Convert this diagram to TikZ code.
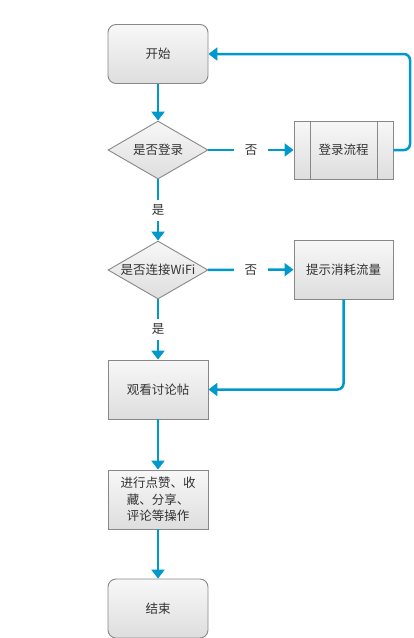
\documentclass[tikz,border=0pt]{standalone}
\usepackage{fontspec}
\newfontfamily\cjk{Noto Sans CJK SC}
\usetikzlibrary{shapes.geometric,arrows.meta,calc}
\definecolor{ln}{RGB}{0,153,204}
\definecolor{bd}{RGB}{136,136,136}
\definecolor{tx}{RGB}{51,51,51}
\begin{document}
\begin{tikzpicture}[x=1pt,y=-1pt,
  base/.style={draw=bd, line width=0.9pt, top color=white!97!black, bottom color=white!87!black,
    font=\cjk\fontsize{12.5}{16.5}\selectfont, text=tx, align=center, inner sep=0pt},
  box/.style={base, rectangle, minimum width=100pt, minimum height=59pt},
  term/.style={box, rounded corners=8pt},
  dec/.style={base, diamond, minimum width=100pt, minimum height=58pt},
  arr/.style={draw=ln, line width=2.5pt, -{Triangle[width=13pt,length=9pt]}},
  lblh/.style={fill=white, font=\cjk\fontsize{12.5}{15}\selectfont, text=tx, inner xsep=11pt, inner ysep=1pt},
  lblv/.style={fill=white, font=\cjk\fontsize{12.5}{15}\selectfont, text=tx, inner xsep=1pt, inner ysep=5pt}
]
\useasboundingbox (0,0) rectangle (413,638);
\node[term] (start) at (158,54) {开始};
\node[dec] (d1) at (158,150) {\makebox[0pt]{是否登录}};
\node[box, minimum width=99pt, minimum height=58pt] (login) at (343.5,150) {登录流程};
\draw[bd, line width=0.9pt] ($(login.north west)+(17,0)$) -- ($(login.south west)+(17,0)$);
\draw[bd, line width=0.9pt] ($(login.north east)+(-16,0)$) -- ($(login.south east)+(-16,0)$);
\node[dec] (d2) at (158,270) {\makebox[0pt]{是否连接WiFi}};
\node[box, minimum width=99pt] (tip) at (343.5,269.5) {提示消耗流量};
\node[box] (watch) at (158,389.5) {观看讨论帖};
\node[box] (act) at (158,499.5) {进行点赞、收\\藏、分享、\\评论等操作};
\node[term] (end) at (158,608.5) {结束};

\draw[arr] (start) -- (d1);
\draw[arr] (d1) -- node[lblh] {否} (login);
\draw[arr, rounded corners=6pt] (login.east) -- (410,150) -- (410,54) -- (start.east);
\draw[arr] (d1) -- node[lblv] {是} (d2);
\draw[arr] (d2) -- node[lblh] {否} (tip);
\draw[arr] (d2) -- node[lblv] {是} (watch);
\draw[arr, rounded corners=6pt] (tip.south) |- (watch.east);
\draw[arr] (watch) -- (act);
\draw[arr] (act) -- (end);
\end{tikzpicture}
\end{document}
